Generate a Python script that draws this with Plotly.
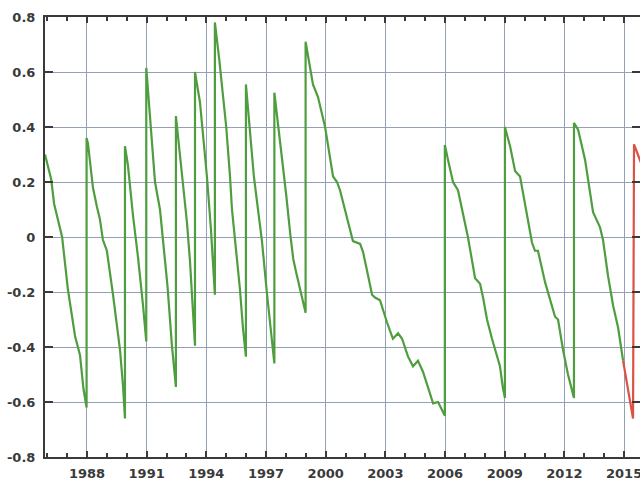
import plotly.graph_objects as go

# ---- data ----
green_years = [
    1985.89, 1986.00, 1986.20, 1986.35, 1986.60, 1986.75, 1987.04, 1987.40, 1987.65, 1987.82, 1987.98,
    1987.98, 1988.05, 1988.30, 1988.50, 1988.65, 1988.80, 1989.00, 1989.31, 1989.66, 1989.81, 1989.91,
    1989.91, 1990.06, 1990.31, 1990.51, 1990.56, 1990.82, 1990.98,
    1990.98, 1991.08, 1991.28, 1991.42, 1991.67, 1991.82, 1992.05, 1992.27, 1992.47,
    1992.47, 1992.57, 1992.78, 1993.03, 1993.18, 1993.33, 1993.43,
    1993.43, 1993.68, 1994.03, 1994.18, 1994.23, 1994.33, 1994.43,
    1994.43, 1994.65, 1995.00, 1995.10, 1995.19, 1995.29, 1995.44, 1995.54, 1995.69, 1995.84, 1995.99,
    1995.99, 1996.14, 1996.39, 1996.64, 1996.79, 1997.04, 1997.24, 1997.42,
    1997.42, 1997.52, 1997.77, 1998.02, 1998.22, 1998.37, 1998.52, 1998.72, 1998.99,
    1998.99, 1999.21, 1999.36, 1999.61, 1999.87, 1999.97, 2000.37, 2000.57, 2000.72, 2001.37, 2001.73,
    2001.88, 2002.13, 2002.33, 2002.48, 2002.73, 2003.08, 2003.38, 2003.64, 2003.84, 2004.14, 2004.39,
    2004.64, 2004.89, 2005.40, 2005.65, 2005.99,
    2005.99, 2006.15, 2006.40, 2006.65, 2007.10, 2007.15, 2007.51, 2007.76, 2007.91, 2008.11, 2008.36,
    2008.76, 2008.91, 2009.01,
    2009.01, 2009.27, 2009.52, 2009.77, 2010.37, 2010.52, 2010.67, 2011.03, 2011.53, 2011.68, 2011.93,
    2012.18, 2012.48,
    2012.48, 2012.69, 2013.04, 2013.44, 2013.79, 2013.94, 2014.19, 2014.45, 2014.70, 2014.95,
]
green_values = [
    0.30, 0.27, 0.21, 0.12, 0.05, 0.0, -0.19, -0.36, -0.43, -0.55, -0.62,
    0.36, 0.34, 0.18, 0.11, 0.065, -0.01, -0.05, -0.21, -0.41, -0.54, -0.66,
    0.33, 0.26, 0.08, -0.03, -0.07, -0.25, -0.38,
    0.615, 0.525, 0.345, 0.20, 0.10, -0.01, -0.18, -0.395, -0.545,
    0.44, 0.37, 0.235, 0.05, -0.09, -0.27, -0.395,
    0.60, 0.49, 0.22, 0.10, 0.03, -0.09, -0.21,
    0.78, 0.645, 0.40, 0.31, 0.22, 0.10, -0.01, -0.09, -0.19, -0.33, -0.435,
    0.555, 0.43, 0.22, 0.075, -0.01, -0.20, -0.33, -0.46,
    0.525, 0.465, 0.32, 0.15, 0.01, -0.08, -0.13, -0.19, -0.275,
    0.71, 0.62, 0.555, 0.51, 0.43, 0.40, 0.22, 0.20, 0.17, -0.015, -0.025,
    -0.055, -0.14, -0.21, -0.22, -0.23, -0.31, -0.37, -0.35, -0.37, -0.435, -0.47,
    -0.45, -0.49, -0.605, -0.60, -0.65,
    0.335, 0.28, 0.20, 0.17, 0.02, 0.0, -0.15, -0.17, -0.22, -0.30, -0.37,
    -0.47, -0.55, -0.585,
    0.40, 0.33, 0.24, 0.22, -0.02, -0.05, -0.05, -0.165, -0.29, -0.30, -0.41,
    -0.50, -0.585,
    0.415, 0.39, 0.28, 0.09, 0.035, -0.01, -0.14, -0.25, -0.33, -0.45,
]
red_years = [2014.95, 2015.20, 2015.38, 2015.45, 2015.50, 2015.65, 2015.85]
red_values = [-0.45, -0.56, -0.64, -0.66, 0.337, 0.31, 0.27]

x_tick_vals = [1988, 1991, 1994, 1997, 2000, 2003, 2006, 2009, 2012, 2015]
x_tick_text = ["1988", "1991", "1994", "1997", "2000", "2003", "2006", "2009", "2012", "2015"]
y_tick_vals = [0.8, 0.6, 0.4, 0.2, 0, -0.2, -0.4, -0.6, -0.8]
y_tick_text = ["0.8", "0.6", "0.4", "0.2", "0", "-0.2", "-0.4", "-0.6", "-0.8"]

GRID = "#93a0b6"
AX = "#3a3a3a"
tickfont = dict(family="DejaVu Sans", size=13, color="#3a3a3a", weight="bold")

fig = go.Figure()
fig.add_trace(go.Scatter(x=green_years, y=green_values, mode="lines",
                         line=dict(color="#4e9d3e", width=2.2), hoverinfo="skip"))
fig.add_trace(go.Scatter(x=red_years, y=red_values, mode="lines",
                         line=dict(color="#de5244", width=2.2), hoverinfo="skip"))
fig.add_trace(go.Scatter(x=[], y=[], yaxis="y2", hoverinfo="skip"))

fig.update_layout(
    width=640, height=481,
    margin=dict(l=45, r=0, t=17, b=24, pad=0),
    paper_bgcolor="white", plot_bgcolor="white",
    showlegend=False,
    xaxis=dict(
        range=[1985.89, 2015.8], automargin=False,
        tickmode="array", tickvals=x_tick_vals, ticktext=x_tick_text,
        ticks="inside", ticklen=6, tickwidth=1.5, tickcolor=AX,
        showline=True, linecolor=AX, linewidth=2, mirror="ticks",
        showgrid=True, gridcolor=GRID, gridwidth=1.3,
        zeroline=False, tickfont=tickfont, ticklabelstandoff=3,
        ticklabeloverflow="allow",
        minor=dict(tickmode="linear", tick0=1985, dtick=1, ticks="inside",
                   ticklen=4, tickwidth=1.5, tickcolor=AX, showgrid=False),
    ),
    yaxis=dict(
        range=[-0.8, 0.8], automargin=False,
        tickmode="array", tickvals=y_tick_vals, ticktext=y_tick_text,
        ticks="inside", ticklen=8, tickwidth=1.5, tickcolor=AX,
        showline=True, linecolor=AX, linewidth=2,
        showgrid=True, gridcolor=GRID, gridwidth=1.3,
        zeroline=False, tickfont=tickfont, ticklabelstandoff=5,
    ),
    yaxis2=dict(
        range=[-0.8, 0.8], overlaying="y", side="right", automargin=False,
        tickmode="array", tickvals=y_tick_vals,
        ticks="inside", ticklen=8, tickwidth=1.5, tickcolor=AX,
        showticklabels=False, showgrid=False, showline=False, zeroline=False,
    ),
)

fig.write_html("out.html", config={"displayModeBar": False},
               post_script="document.body.style.margin='0';document.body.style.overflow='hidden';")
